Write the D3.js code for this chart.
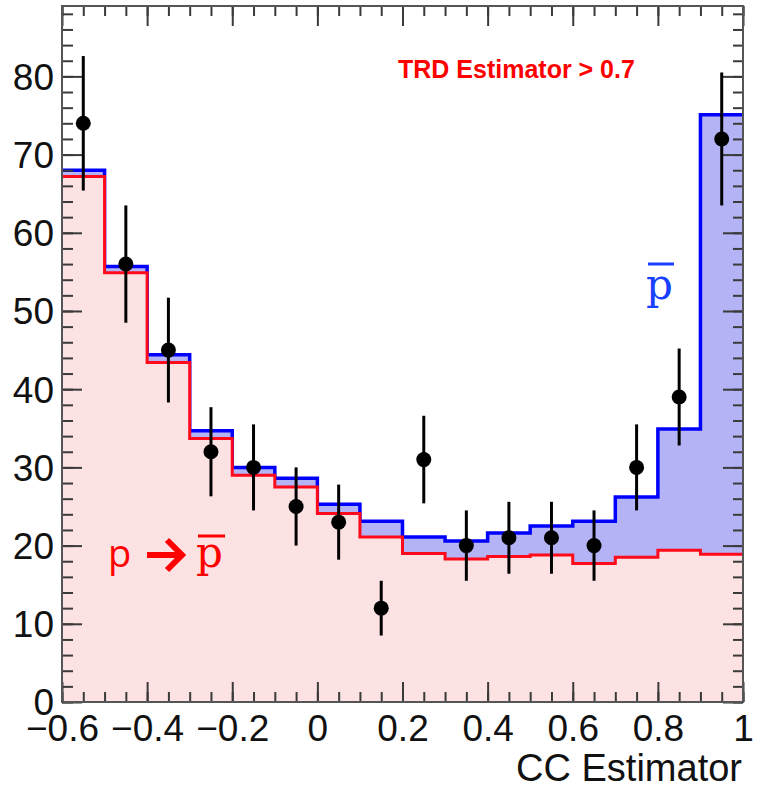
<!DOCTYPE html>
<html>
<head>
<meta charset="utf-8">
<script src="https://cdn.jsdelivr.net/npm/d3@7"></script>
<style>
  body { margin: 0; background: #fff; }
  svg { display: block; }
  .tick text { font-family: "Liberation Sans", Arial, sans-serif; font-size: 37px; fill: #111; }
  .tick line { stroke: #3a3a3a; stroke-width: 2; }
</style>
</head>
<body>
<svg id="chart"></svg>
<script>
const width = 760;
const height = 789;

// bins of CC Estimator (lower edges, width 0.1)
const binLow = [-0.6, -0.5, -0.4, -0.3, -0.2, -0.1, 0.0, 0.1, 0.2, 0.3, 0.4, 0.5, 0.6, 0.7, 0.8, 0.9];
const binWidth = 0.1;

// stacked total (pbar + p->pbar) and p->pbar component
const totalCounts = [68.0, 55.7, 44.4, 34.7, 30.0, 28.6, 25.3, 23.1, 21.1, 20.6, 21.6, 22.5, 23.1, 26.2, 34.9, 75.1];
const misidCounts = [67.2, 54.9, 43.4, 33.7, 29.0, 27.5, 24.1, 21.1, 19.0, 18.3, 18.6, 18.8, 17.7, 18.5, 19.4, 18.9];

// data points and their errors
const dataCounts = [74, 56, 45, 32, 30, 25, 23, 12, 31, 20, 21, 21, 20, 30, 39, 72];
const dataErrors = [8.6, 7.5, 6.7, 5.7, 5.5, 5.0, 4.8, 3.5, 5.6, 4.5, 4.6, 4.6, 4.5, 5.5, 6.2, 8.5];

const xTicks = [-0.6, -0.4, -0.2, 0, 0.2, 0.4, 0.6, 0.8, 1];
const xTickLabels = ["\u22120.6", "\u22120.4", "\u22120.2", "0", "0.2", "0.4", "0.6", "0.8", "1"];
const yTicks = [0, 10, 20, 30, 40, 50, 60, 70, 80];

const frame = { left: 62, right: 743, top: 6, bottom: 702 };

const svg = d3.select("#chart")
    .attr("width", width)
    .attr("height", height);

const x = d3.scaleLinear().domain([-0.6, 1]).range([frame.left, frame.right]);
const y = d3.scaleLinear().domain([0, 89]).range([frame.bottom, frame.top]);

// step points: one per bin plus closing edge
function stepPoints(vals) {
    const pts = binLow.map((b, i) => ({ x: b, v: vals[i] }));
    pts.push({ x: binLow[binLow.length - 1] + binWidth, v: vals[vals.length - 1] });
    return pts;
}

const area = d3.area()
    .curve(d3.curveStepAfter)
    .x(d => x(d.x))
    .y0(y(0))
    .y1(d => y(d.v));

const line = d3.line()
    .curve(d3.curveStepAfter)
    .x(d => x(d.x))
    .y(d => y(d.v));

const totalPts = stepPoints(totalCounts);
const misidPts = stepPoints(misidCounts);

// blue stack (total)
svg.append("path").attr("d", area(totalPts)).attr("fill", "#b3b3f6");
svg.append("path").attr("d", line(totalPts))
    .attr("fill", "none").attr("stroke", "#0000ff").attr("stroke-width", 3.5);

// red component on top
svg.append("path").attr("d", area(misidPts)).attr("fill", "#fde2e3");
svg.append("path").attr("d", line(misidPts))
    .attr("fill", "none").attr("stroke", "#ff0a1a").attr("stroke-width", 3);

// axes: major + minor ticks on all four sides
const xMinor = d3.range(0, 33).map(i => -0.6 + i * 0.05);
const yMinor = d3.range(0, 45).map(i => i * 2);

function styleAxis(g) {
    g.select(".domain").remove();
}

svg.append("g")
    .attr("transform", `translate(0,${frame.bottom})`)
    .call(d3.axisBottom(x).tickValues(xMinor).tickSizeInner(-10).tickSizeOuter(0).tickFormat(""))
    .call(styleAxis);
svg.append("g")
    .attr("transform", `translate(0,${frame.bottom})`)
    .call(d3.axisBottom(x).tickValues(xTicks).tickSizeInner(-20).tickSizeOuter(0).tickPadding(13)
        .tickFormat((d, i) => xTickLabels[i]))
    .call(styleAxis);

svg.append("g")
    .attr("transform", `translate(0,${frame.top})`)
    .call(d3.axisTop(x).tickValues(xMinor).tickSizeInner(-10).tickSizeOuter(0).tickFormat(""))
    .call(styleAxis);
svg.append("g")
    .attr("transform", `translate(0,${frame.top})`)
    .call(d3.axisTop(x).tickValues(xTicks).tickSizeInner(-20).tickSizeOuter(0).tickFormat(""))
    .call(styleAxis);

svg.append("g")
    .attr("transform", `translate(${frame.left},0)`)
    .call(d3.axisLeft(y).tickValues(yMinor).tickSizeInner(-11).tickSizeOuter(0).tickFormat(""))
    .call(styleAxis);
svg.append("g")
    .attr("transform", `translate(${frame.left},0)`)
    .call(d3.axisLeft(y).tickValues(yTicks).tickSizeInner(-20).tickSizeOuter(0).tickPadding(8)
        .tickFormat(d3.format("d")))
    .call(styleAxis)
    .selectAll("text").attr("dy", "0.35em");

svg.append("g")
    .attr("transform", `translate(${frame.right},0)`)
    .call(d3.axisRight(y).tickValues(yMinor).tickSizeInner(-10).tickSizeOuter(0).tickFormat(""))
    .call(styleAxis);
svg.append("g")
    .attr("transform", `translate(${frame.right},0)`)
    .call(d3.axisRight(y).tickValues(yTicks).tickSizeInner(-20).tickSizeOuter(0).tickFormat(""))
    .call(styleAxis);

// frame
svg.append("rect")
    .attr("x", frame.left).attr("y", frame.top)
    .attr("width", frame.right - frame.left).attr("height", frame.bottom - frame.top)
    .attr("fill", "none").attr("stroke", "#555").attr("stroke-width", 2);

// data points with error bars
const pts = svg.append("g").selectAll("g")
    .data(dataCounts.map((v, i) => ({ c: binLow[i] + binWidth / 2, v, e: dataErrors[i] })))
    .join("g");
pts.append("line")
    .attr("x1", d => x(d.c)).attr("x2", d => x(d.c))
    .attr("y1", d => y(d.v - d.e)).attr("y2", d => y(d.v + d.e))
    .attr("stroke", "#000").attr("stroke-width", 3);
pts.append("circle")
    .attr("cx", d => x(d.c)).attr("cy", d => y(d.v))
    .attr("r", 7.5).attr("fill", "#000");

// x axis title
svg.append("text")
    .attr("x", 742).attr("y", 781)
    .attr("text-anchor", "end")
    .style("font-family", "'Liberation Sans', Arial, sans-serif")
    .style("font-size", "38px")
    .attr("fill", "#111")
    .text("CC Estimator");

// annotations
svg.append("text")
    .attr("x", 398).attr("y", 78)
    .style("font-family", "'Liberation Sans', Arial, sans-serif")
    .style("font-size", "25px").style("font-weight", "bold")
    .attr("fill", "#ff0000")
    .text("TRD Estimator > 0.7");

// pbar label (blue)
svg.append("text")
    .attr("x", 646).attr("y", 299)
    .style("font-family", "'DejaVu Serif', serif")
    .style("font-size", "42px")
    .attr("fill", "#1a40ff")
    .text("p");
svg.append("line")
    .attr("x1", 648).attr("x2", 674).attr("y1", 264).attr("y2", 264)
    .attr("stroke", "#1a40ff").attr("stroke-width", 3);

// p -> pbar label (red)
svg.append("text")
    .attr("x", 108).attr("y", 567)
    .style("font-family", "'Open Sans', sans-serif")
    .style("font-size", "38px")
    .attr("fill", "#ff0000")
    .text("p");
svg.append("path")
    .attr("d", "M147,555 H180 M167,540 L182,555 L167,570")
    .attr("fill", "none").attr("stroke", "#ff0000").attr("stroke-width", 6)
    .attr("stroke-linejoin", "miter");
svg.append("text")
    .attr("x", 196).attr("y", 567)
    .style("font-family", "'DejaVu Serif', serif")
    .style("font-size", "42px")
    .attr("fill", "#ff0000")
    .text("p");
svg.append("line")
    .attr("x1", 198).attr("x2", 225).attr("y1", 536).attr("y2", 536)
    .attr("stroke", "#ff0000").attr("stroke-width", 3);
</script>
</body>
</html>
